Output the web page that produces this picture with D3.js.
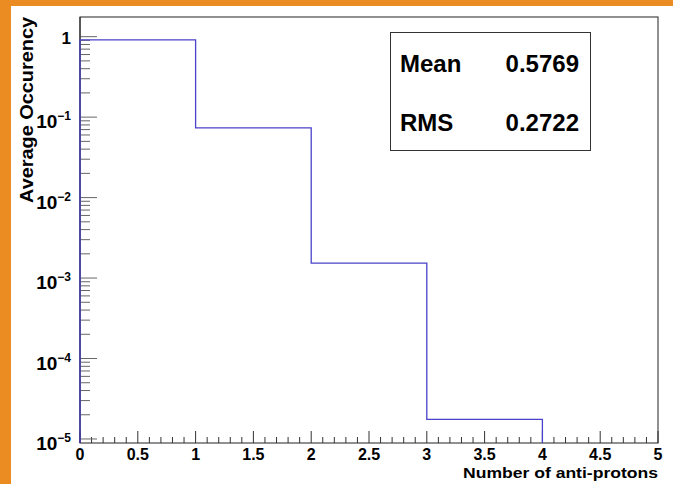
<!DOCTYPE html>
<html>
<head>
<meta charset="utf-8">
<script src="https://cdn.jsdelivr.net/npm/d3@7"></script>
<style>
  body { margin: 0; background: #fff; }
  text { font-family: "Liberation Sans", Arial, Helvetica, sans-serif; font-weight: bold; fill: #000; }
</style>
</head>
<body>
<svg width="673" height="484"></svg>
<script>
// histogram data (bin edges and contents)
const binEdges = [0, 1, 2, 3, 4, 5];
const binValues = [0.910, 0.0737, 0.00153, 1.75e-5, 0];
const xTickLabels = ["0", "0.5", "1", "1.5", "2", "2.5", "3", "3.5", "4", "4.5", "5"];
const yDecades = [0, -1, -2, -3, -4, -5];
const statNames = ["Mean", "RMS"];
const statValues = ["0.5769", "0.2722"];

const frame = {left: 80, top: 17, right: 658, bottom: 443};

const svg = d3.select("svg");

// orange canvas border
svg.append("rect").attr("x", 0).attr("y", 0).attr("width", 673).attr("height", 6).attr("fill", "#eb8c23");
svg.append("rect").attr("x", 0).attr("y", 0).attr("width", 11).attr("height", 484).attr("fill", "#eb8c23");

const xScale = d3.scaleLinear().domain([0, 5]).range([frame.left, frame.right]);
const yScale = d3.scaleLog().domain([Math.pow(10, -5.05), Math.pow(10, 0.2445)]).range([frame.bottom, frame.top]);

// frame
svg.append("rect")
  .attr("x", frame.left).attr("y", frame.top)
  .attr("width", frame.right - frame.left).attr("height", frame.bottom - frame.top)
  .attr("fill", "none").attr("stroke", "#222").attr("stroke-width", 1);

// x ticks
const xAxis = svg.append("g");
d3.range(0, 51).forEach(i => {
  const v = i / 10;
  const major = i % 5 === 0;
  xAxis.append("line")
    .attr("x1", xScale(v)).attr("x2", xScale(v))
    .attr("y1", frame.bottom).attr("y2", frame.bottom - (major ? 12 : 6))
    .attr("stroke", "#333").attr("stroke-width", 1);
});
xAxis.selectAll("text.xl")
  .data(xTickLabels)
  .enter().append("text")
  .attr("class", "xl")
  .attr("x", d => xScale(+d))
  .attr("y", 460)
  .attr("text-anchor", "middle")
  .style("font-size", "16px")
  .text(d => d);

// y ticks
const yAxis = svg.append("g");
yDecades.forEach(p => {
  yAxis.append("line")
    .attr("x1", frame.left).attr("x2", frame.left + 17)
    .attr("y1", yScale(Math.pow(10, p))).attr("y2", yScale(Math.pow(10, p)))
    .attr("stroke", "#666").attr("stroke-width", 1);
  if (p > -5) {
    for (let k = 2; k <= 9; k++) {
      const v = k * Math.pow(10, p - 1);
      yAxis.append("line")
        .attr("x1", frame.left).attr("x2", frame.left + 10)
        .attr("y1", yScale(v)).attr("y2", yScale(v))
        .attr("stroke", "#666").attr("stroke-width", 1);
    }
  }
  if (p === 0) {
    yAxis.append("text")
      .attr("x", 71).attr("y", yScale(1) + 7)
      .attr("text-anchor", "end")
      .style("font-size", "17px")
      .text("1");
  } else {
    const t = yAxis.append("text")
      .attr("x", 71).attr("y", yScale(Math.pow(10, p)) + 11)
      .attr("text-anchor", "end")
      .style("font-size", "19px");
    t.append("tspan").text("10");
    t.append("tspan").attr("dy", -8).style("font-size", "12px").text("\u2212" + (-p));
  }
});
// y axis line
svg.append("line")
  .attr("x1", frame.left).attr("x2", frame.left)
  .attr("y1", frame.top).attr("y2", frame.bottom)
  .attr("stroke", "#222");

// histogram step line (zero bins are not drawn on the log scale)
const pts = [[xScale(binEdges[0]), frame.bottom]];
binValues.forEach((v, i) => {
  if (v <= 0) return;
  pts.push([xScale(binEdges[i]), yScale(v)]);
  pts.push([xScale(binEdges[i + 1]), yScale(v)]);
  if (i === binValues.length - 1 || binValues[i + 1] <= 0) {
    pts.push([xScale(binEdges[i + 1]), frame.bottom]);
  }
});
svg.append("path")
  .attr("d", d3.line()(pts))
  .attr("fill", "none")
  .attr("stroke", "#4a42c8")
  .attr("stroke-width", 1.3);

// titles
svg.append("text")
  .attr("transform", "translate(33," + frame.top + ") rotate(-90)")
  .attr("text-anchor", "end")
  .attr("textLength", 186)
  .attr("lengthAdjust", "spacingAndGlyphs")
  .style("font-size", "19px")
  .text("Average Occurency");

svg.append("text")
  .attr("x", frame.right).attr("y", 478)
  .attr("text-anchor", "end")
  .attr("textLength", 195)
  .attr("lengthAdjust", "spacingAndGlyphs")
  .style("font-size", "15px")
  .text("Number of anti-protons");

// stats box
svg.append("rect")
  .attr("x", 390.5).attr("y", 32.5).attr("width", 200).attr("height", 118)
  .attr("fill", "#fff").attr("stroke", "#333").attr("stroke-width", 1);
const statY = [72, 131];
statNames.forEach((n, i) => {
  svg.append("text").attr("x", 400).attr("y", statY[i]).style("font-size", "24px").text(n);
  svg.append("text").attr("x", 579).attr("y", statY[i]).attr("text-anchor", "end").style("font-size", "24px").text(statValues[i]);
});
</script>
</body>
</html>
